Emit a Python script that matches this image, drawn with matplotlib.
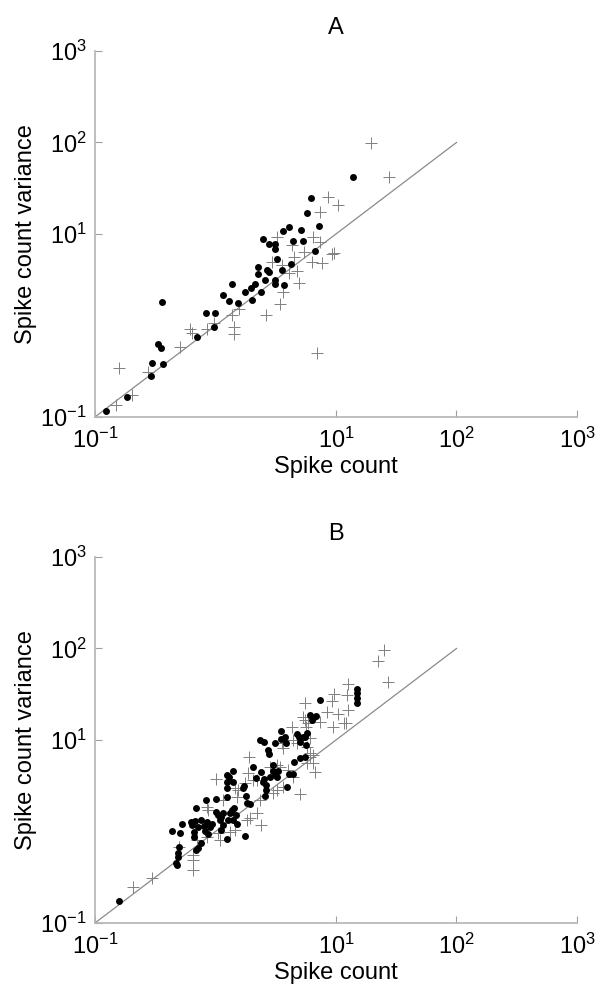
import numpy as np
import matplotlib.pyplot as plt
from matplotlib.ticker import NullLocator

plt.rcParams['font.family'] = ['Liberation Sans', 'DejaVu Sans']
plt.rcParams['mathtext.default'] = 'regular'
plt.rcParams['axes.unicode_minus'] = False

# Panel A: mean spike count vs variance
a_dot_x = [0.123, 0.185, 0.293, 0.296, 0.366, 0.331, 0.351, 0.357, 0.698, 0.834,
           1.00, 0.966, 1.15, 1.30, 1.36, 1.55, 1.75, 1.98, 2.12, 2.00,
           2.37, 2.24, 2.27, 2.48, 2.76, 2.58, 2.67, 2.78, 3.14, 3.14,
           3.26, 3.12, 3.12, 3.56, 3.70, 3.63, 4.07, 4.23, 4.42, 5.12,
           5.35, 5.71, 6.20, 6.66, 7.22, 13.8]
a_dot_y = [0.117, 0.167, 0.283, 0.386, 0.376, 0.628, 0.572, 1.82, 0.743, 1.37,
           1.37, 0.955, 2.15, 1.87, 2.86, 1.76, 2.32, 2.55, 2.84, 1.88,
           2.34, 4.36, 3.65, 8.82, 7.83, 3.12, 4.07, 3.81, 7.83, 6.85,
           5.29, 3.17, 2.84, 4.04, 2.77, 10.7, 12.0, 4.74, 8.32, 11.1,
           8.32, 16.8, 24.9, 6.47, 12.3, 42.3]
a_plus_x = [0.159, 0.149, 0.204, 0.275, 0.507, 0.614, 0.643, 0.845, 0.972, 1.36,
            1.42, 1.42, 1.57, 2.61, 3.43, 3.65, 2.93, 3.22, 3.54, 4.07,
            4.29, 4.51, 4.77, 4.96, 5.46, 6.29, 6.48, 7.36, 7.61, 7.36,
            8.63, 10.4, 9.27, 9.60, 6.92, 19.4, 27.7]
a_plus_y = [0.346, 0.134, 0.174, 0.310, 0.578, 0.916, 0.834, 0.916, 1.06, 1.30,
            0.955, 0.801, 1.51, 1.30, 1.71, 2.31, 4.98, 9.34, 4.58, 3.78,
            7.58, 5.65, 3.94, 2.94, 6.41, 4.98, 9.34, 8.24, 4.78, 17.5,
            25.6, 20.7, 6.09, 6.20, 0.504, 99.5, 41.7]

# Panel B
b_dot_x = [0.159, 0.482, 0.470, 0.491, 0.485, 0.501, 0.433, 0.507, 0.531, 0.622,
           0.634, 0.676, 0.689, 0.663, 0.721, 0.758, 0.802, 0.845, 0.900, 0.871,
           0.818, 0.929, 1.01, 1.05, 1.11, 1.15, 1.09, 1.16, 1.12, 1.24,
           1.28, 1.32, 1.36, 1.42, 1.50, 1.47, 1.41, 1.76, 0.684, 0.721,
           0.758, 0.667, 0.829, 1.01, 1.24, 1.24, 1.25, 1.24, 1.30, 1.39,
           1.39, 1.81, 1.93, 1.79, 1.68, 1.72, 2.06, 2.15, 2.37, 2.46,
           2.52, 2.59, 2.65, 2.83, 2.98, 2.98, 3.13, 3.26, 3.32, 2.61,
           2.34, 2.54, 2.74, 2.80, 3.12, 3.47, 3.49, 3.85, 4.05, 3.89,
           4.36, 4.48, 4.77, 4.96, 5.02, 5.36, 5.64, 5.50, 6.08, 6.40,
           6.82, 6.28, 7.36, 14.9, 14.9, 14.9, 14.9, 5.53, 3.78, 5.02,
           5.71]
b_dot_y = [0.175, 0.431, 0.456, 0.531, 0.577, 0.671, 1.01, 0.971, 1.21, 1.28,
           1.18, 1.31, 1.82, 0.995, 1.13, 1.34, 1.15, 1.28, 1.13, 0.931,
           1.01, 1.20, 1.62, 1.51, 1.45, 1.58, 1.34, 1.18, 1.04, 0.828,
           1.34, 1.58, 1.72, 1.79, 1.21, 1.51, 1.34, 0.901, 0.628, 0.655,
           0.743, 0.879, 2.21, 2.26, 2.40, 2.96, 3.51, 4.15, 3.91, 3.44,
           4.62, 2.03, 1.98, 2.44, 2.96, 3.17, 5.02, 3.81, 4.51, 3.51,
           3.72, 2.44, 2.84, 3.97, 5.33, 4.62, 4.15, 3.97, 4.62, 3.22,
           10.0, 9.59, 7.78, 6.97, 9.35, 10.2, 12.5, 9.35, 4.22, 3.09,
           4.26, 5.80, 11.5, 10.9, 6.31, 10.9, 8.81, 10.9, 18.8, 17.5,
           18.3, 16.6, 27.4, 35.8, 32.4, 28.6, 25.6, 6.58, 10.9, 9.59,
           11.8]
b_plus_x = [0.208, 0.295, 0.501, 0.647, 0.647, 0.655, 1.01, 0.845, 0.871, 1.16,
            1.50, 1.45, 1.55, 1.76, 1.87, 1.91, 2.06, 2.19, 1.81, 1.93,
            2.19, 2.37, 1.32, 1.09, 1.45, 1.05, 3.02, 3.22, 3.66, 3.22,
            3.43, 3.54, 4.43, 4.71, 4.43, 5.02, 5.36, 5.64, 5.89, 6.08,
            6.49, 6.70, 5.70, 6.08, 12.2, 0.845, 0.698, 4.02, 2.83, 2.34,
            25.2, 22.4, 26.9, 12.6, 9.21, 9.68, 12.3, 5.53, 8.37, 10.4,
            12.6, 9.50, 11.7, 7.36, 4.29, 5.53, 6.09, 5.71, 3.65, 6.48]
b_plus_y = [0.249, 0.313, 0.682, 0.489, 0.380, 0.553, 3.72, 1.87, 1.72, 2.21,
            2.40, 2.96, 2.84, 3.36, 4.32, 6.58, 3.66, 3.66, 1.34, 1.39,
            1.58, 1.18, 0.995, 0.807, 1.04, 0.955, 2.61, 2.84, 3.09, 5.33,
            5.12, 9.20, 10.0, 9.20, 3.97, 2.57, 18.0, 14.0, 15.2, 6.58,
            5.56, 4.51, 5.56, 7.14, 15.2, 0.879, 0.807, 4.70, 5.12, 2.21,
            96.3, 73.0, 42.7, 40.6, 26.7, 31.6, 31.0, 25.2, 20.4, 19.2,
            21.3, 13.8, 15.5, 15.8, 13.8, 16.5, 10.5, 8.45, 8.11, 6.85]

ticks = [0.1, 10, 100, 1000]
unity = [0.1, 100]

fig = plt.figure(figsize=(5.97, 9.93), dpi=100)
axA = fig.add_axes([0.1591, 0.5801, 0.8074, 0.3686])
axB = fig.add_axes([0.1591, 0.0705, 0.8074, 0.3686])

panels = [(axA, 'A', a_dot_x, a_dot_y, a_plus_x, a_plus_y),
          (axB, 'B', b_dot_x, b_dot_y, b_plus_x, b_plus_y)]

for ax, name, dx, dy, px, py in panels:
    ax.plot(unity, unity, color='#8a8a8a', linewidth=0.9, zorder=1)
    ax.plot(px, py, '+', color='#808080', markersize=8.5, markeredgewidth=0.7, zorder=2)
    ax.plot(dx, dy, 'o', color='black', markersize=5, markeredgewidth=0, zorder=3)
    ax.set_xscale('log')
    ax.set_yscale('log')
    ax.set_xlim(0.1, 1000)
    ax.set_ylim(0.1, 1000)
    ax.set_xticks(ticks)
    ax.set_yticks(ticks)
    ax.xaxis.set_minor_locator(NullLocator())
    ax.yaxis.set_minor_locator(NullLocator())
    for side in ['top', 'right']:
        ax.spines[side].set_visible(False)
    for side in ['left', 'bottom']:
        ax.spines[side].set_color('#b4b4b4')
        ax.spines[side].set_linewidth(1.2)
    ax.tick_params(direction='in', length=5, width=0.8, color='#a0a0a0',
                   labelsize=17, pad=6)
    ax.tick_params(axis='x', pad=8)
    ax.set_xlabel('Spike count', fontsize=17, labelpad=2)
    ax.set_ylabel('Spike count variance', fontsize=17, labelpad=2)
    ax.set_title(name, fontsize=17, pad=12)

plt.savefig('out.png', dpi=100)
